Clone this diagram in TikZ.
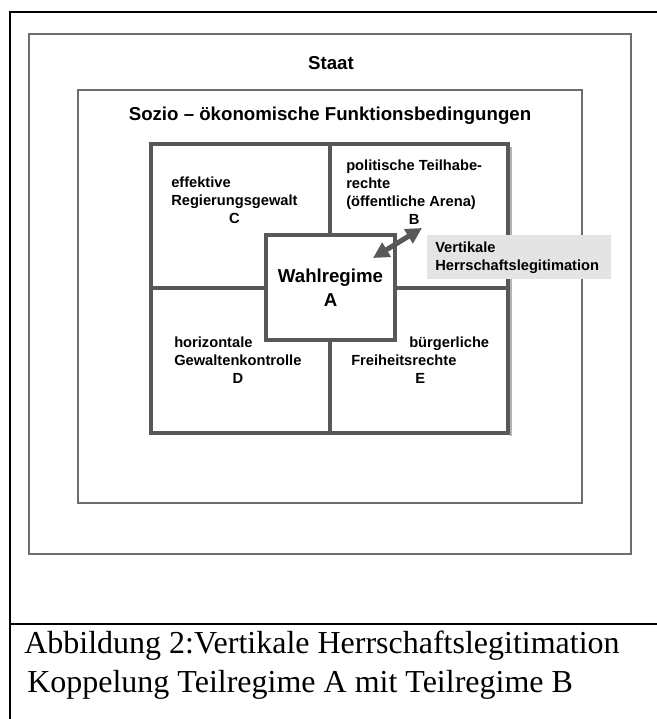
\documentclass[tikz,border=0pt]{standalone}
\usepackage{fontspec}
\setmainfont{Liberation Serif}
\setsansfont{Liberation Sans}
\usetikzlibrary{arrows.meta}
\definecolor{boxgray}{HTML}{6E6E6E}
\definecolor{gridgray}{HTML}{585858}
\definecolor{labelgray}{HTML}{E4E4E4}
\newcommand{\cellfont}{\sffamily\bfseries\fontsize{11}{13.5}\selectfont}
\newcommand{\headfont}{\sffamily\bfseries\fontsize{14}{18}\selectfont}
\newcommand{\capfont}{\rmfamily\fontsize{24}{29}\selectfont}

\begin{document}
\begin{tikzpicture}[x=0.75pt, y=-0.75pt,
    frame/.style={line width=1.5pt, black},
    shell/.style={line width=1.8pt, boxgray},
    cellgrid/.style={line width=2.3pt, gridgray},
    cell/.style={inner sep=0pt, anchor=base west, font=\cellfont},
    head/.style={inner sep=0pt, font=\headfont},
    twoway/.style={line width=3.8pt, gridgray,
      {Triangle[length=12pt,width=12pt]}-{Triangle[length=12pt,width=12pt]}}]
  \useasboundingbox (0,0) rectangle (657,719);
  \clip (0,0) rectangle (657,719);
  % table frame round figure and caption
  \draw[frame] (10,740) |- (680,12);
  \draw[frame] (10,624) -- (680,624);
  % nested boxes
  \draw[shell] (29,34) rectangle (631,554);
  \draw[shell] (78,90) rectangle (582,503);
  \node[head] (staat) at (331,63) {Staat};
  \node[head] (sozio) at (330,116) {Sozio -- ökonomische Funktionsbedingungen};
  % four partial regimes
  \draw[cellgrid] (151,144) rectangle (508,433);
  \draw[cellgrid] (330,144) -- (330,433);
  \draw[cellgrid] (151,288) -- (508,288);
  \draw[line width=1pt, gridgray!45] (511,147) -- (511,436);
  \node[cell] (regC) at (171,187) {\begin{tabular}[t]{@{}l@{}}effektive\\Regierungsgewalt\\\multicolumn{1}{@{}c@{}}{C}\end{tabular}};
  \node[cell] (regB) at (346,170) {\begin{tabular}[t]{@{}l@{}}politische Teilhabe-\\rechte\\(öffentliche Arena)\\\multicolumn{1}{@{}c@{}}{B}\end{tabular}};
  \node[cell] (regD) at (174,347) {\begin{tabular}[t]{@{}l@{}}horizontale\\Gewaltenkontrolle\\\multicolumn{1}{@{}c@{}}{D}\end{tabular}};
  \node[cell] (regE) at (351,347) {\begin{tabular}[t]{@{}l@{}}\hspace*{43.5pt}bürgerliche\\Freiheitsrechte\\\multicolumn{1}{@{}c@{}}{E}\end{tabular}};
  \node[head, draw=gridgray, line width=2.3pt, fill=white, align=center,
    minimum width=96.75pt, minimum height=78.75pt] (regA) at (330.5,287.5) {Wahlregime\\A};
  % legitimation link A -- B
  \node[font=\cellfont, fill=labelgray, align=left, anchor=north west,
    text width=126pt, inner xsep=6pt, inner ysep=0pt, minimum height=33pt] (vlabel) at (427,235) {Vertikale\\Herrschaftslegitimation};
  \coordinate (linkA) at (373,258);
  \coordinate (linkB) at (422,228);
  \draw[twoway] (linkA) -- (linkB);
  % caption
  \node[font=\capfont, inner sep=0pt, anchor=base west] (cap1) at (24,653) {Abbildung 2:Vertikale Herrschaftslegitimation};
  \node[font=\capfont, inner sep=0pt, anchor=base west] (cap2) at (27,692) {Koppelung Teilregime A mit Teilregime B};
\end{tikzpicture}
\end{document}
